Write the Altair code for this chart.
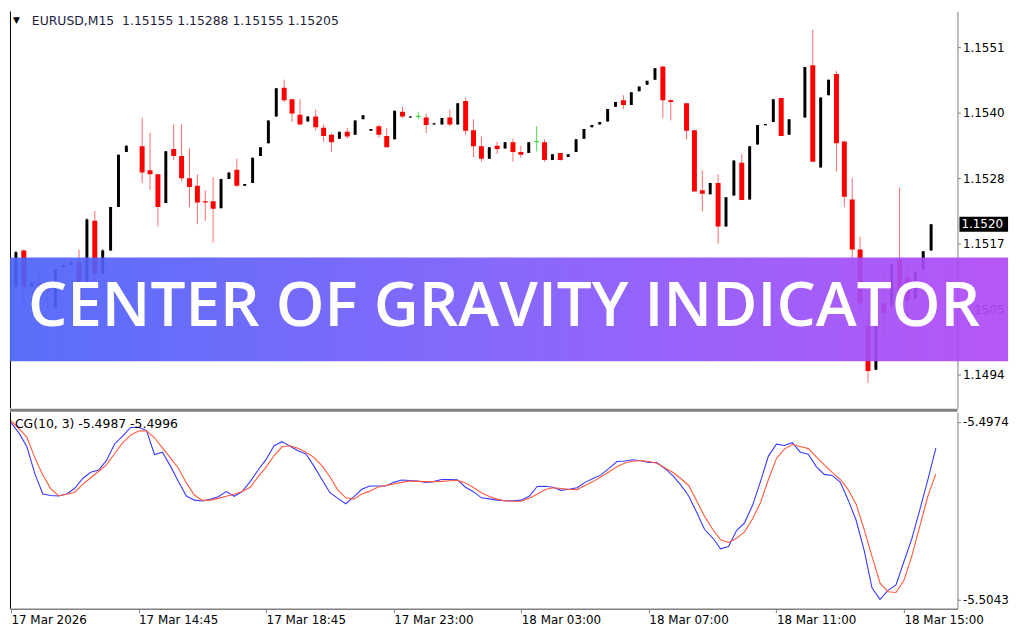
import json
import altair as alt
import pandas as pd

# ---------------- data ----------------
opens = [1.15094, 1.15156, 1.15094, 1.15099, 1.15094, 1.15057, 1.15128, 1.15131, 1.15136, 1.15094,
         1.15208, 1.15116, 1.15156, 1.15232, 1.15328, None, 1.15338, 1.15296, 1.15289, 1.15239,
         1.15333, 1.15321, 1.15282, 1.15269, 1.15242, 1.15242, 1.15230, 1.15281, 1.15297, 1.15269,
         1.15274, 1.15321, 1.15343, 1.15390, 1.15440, 1.15420, 1.15393, 1.15381, 1.15390, 1.15370,
         1.15358, 1.15351, 1.15363, 1.15358, 1.15385, 1.15365, 1.15373, 1.15356, 1.15350, 1.15398,
         1.15388, 1.15390, 1.15388, 1.15376, 1.15376, 1.15388, 1.15376, 1.15417, 1.15366, 1.15338,
         1.15316, 1.15339, 1.15334, 1.15345, 1.15328, 1.15326, 1.15346, 1.15345, 1.15314, 1.15326,
         1.15319, 1.15328, 1.15351, 1.15371, 1.15376, 1.15381, 1.15407, 1.15418, 1.15410, 1.15434,
         1.15445, 1.15454, 1.15477, 1.15418, None, 1.15413, 1.15366, 1.15261, 1.15254, 1.15274,
         1.15198, 1.15252, 1.15309, 1.15245, 1.15341, 1.15375, 1.15380, 1.15422, 1.15358, None,
         1.15388, 1.15479, 1.15301, 1.15427, 1.15464, 1.15346, 1.15245, 1.15158, 1.15024, 1.14948,
         1.15064, 1.15061, 1.15140, 1.15108, 1.15072, 1.15123, 1.15156]
highs = [1.15155, 1.15158, 1.15101, 1.15114, 1.15099, 1.15123, 1.15131, 1.15135, 1.15158, 1.15212,
         1.15225, 1.15158, 1.15232, 1.15323, 1.15339, None, 1.15388, 1.15361, 1.15289, 1.15329,
         1.15376, 1.15376, 1.15334, 1.15289, 1.15261, 1.15284, 1.15281, 1.15292, 1.15316, 1.15272,
         1.15318, 1.15336, 1.15383, 1.15439, 1.15454, 1.15420, 1.15420, 1.15390, 1.15402, 1.15376,
         1.15360, 1.15363, 1.15370, 1.15383, 1.15392, 1.15368, 1.15375, 1.15370, 1.15400, 1.15407,
         1.15390, 1.15398, 1.15395, 1.15378, 1.15387, 1.15402, 1.15413, 1.15423, 1.15385, 1.15355,
         1.15336, 1.15346, 1.15345, 1.15351, 1.15339, 1.15345, 1.15373, 1.15350, 1.15324, 1.15326,
         1.15324, 1.15350, 1.15368, 1.15375, 1.15380, 1.15403, 1.15415, 1.15427, 1.15432, 1.15442,
         1.15452, 1.15474, 1.15477, 1.15420, None, 1.15413, 1.15366, 1.15296, 1.15274, 1.15289,
         1.15249, 1.15313, 1.15324, 1.15338, 1.15375, 1.15376, 1.15420, 1.15422, 1.15385, None,
         1.15476, 1.15541, 1.15423, 1.15454, 1.15469, 1.15346, 1.15282, 1.15180, 1.15052, 1.15061,
         1.15119, 1.15133, 1.15266, 1.15133, 1.15119, 1.15155, 1.15202]
lows = [1.15091, 1.15066, 1.15093, 1.15086, 1.15056, 1.15057, 1.15128, 1.15131, 1.15066, 1.15091,
        1.15098, 1.15116, 1.15156, 1.15232, 1.15328, None, 1.15274, 1.15262, 1.15198, 1.15239,
        1.15314, 1.15276, 1.15232, 1.15202, 1.15208, 1.15170, 1.15230, 1.15281, 1.15267, 1.15269,
        1.15274, 1.15321, 1.15343, 1.15390, 1.15415, 1.15380, 1.15376, 1.15381, 1.15365, 1.15346,
        1.15328, 1.15351, 1.15351, 1.15358, 1.15385, 1.15365, 1.15353, 1.15336, 1.15350, 1.15387,
        1.15388, 1.15385, 1.15361, 1.15376, 1.15376, 1.15373, 1.15376, 1.15358, 1.15319, 1.15311,
        1.15316, 1.15324, 1.15334, 1.15311, 1.15318, 1.15326, 1.15329, 1.15311, 1.15314, 1.15313,
        1.15319, 1.15328, 1.15351, 1.15371, 1.15376, 1.15381, 1.15407, 1.15403, 1.15410, 1.15434,
        1.15445, 1.15454, 1.15387, 1.15383, None, 1.15350, 1.15259, 1.15224, 1.15254, 1.15168,
        1.15198, 1.15252, 1.15244, 1.15245, 1.15341, 1.15375, 1.15380, 1.15356, 1.15358, None,
        1.15388, 1.15311, 1.15301, 1.15427, 1.15294, 1.15232, 1.15128, 1.15049, 1.14925, 1.14948,
        1.15005, 1.15057, 1.15056, 1.15032, 1.15072, 1.15123, 1.15156]
closes = [1.15153, 1.15094, 1.15099, 1.15094, 1.15086, 1.15123, 1.15131, 1.15135, 1.15067, 1.15210,
          1.15116, 1.15156, 1.15232, 1.15323, 1.15339, None, 1.15292, 1.15289, 1.15232, 1.15329,
          1.15321, 1.15282, 1.15267, 1.15240, 1.15240, 1.15229, 1.15281, 1.15292, 1.15269, 1.15272,
          1.15318, 1.15336, 1.15383, 1.15439, 1.15418, 1.15395, 1.15376, 1.15390, 1.15371, 1.15356,
          1.15345, 1.15363, 1.15355, 1.15383, 1.15392, 1.15368, 1.15358, 1.15336, 1.15400, 1.15390,
          1.15390, 1.15390, 1.15375, 1.15378, 1.15387, 1.15376, 1.15413, 1.15365, 1.15338, 1.15316,
          1.15336, 1.15333, 1.15345, 1.15328, 1.15323, 1.15345, 1.15346, 1.15314, 1.15324, 1.15314,
          1.15324, 1.15350, 1.15368, 1.15375, 1.15380, 1.15403, 1.15415, 1.15410, 1.15432, 1.15442,
          1.15452, 1.15474, 1.15418, 1.15415, None, 1.15365, 1.15259, 1.15255, 1.15274, 1.15198,
          1.15249, 1.15313, 1.15244, 1.15338, 1.15375, 1.15376, 1.15420, 1.15356, 1.15385, None,
          1.15476, 1.15311, 1.15423, 1.15454, 1.15343, 1.15250, 1.15158, 1.15064, 1.14946, 1.15061,
          1.15047, 1.15133, 1.15069, 1.15069, 1.15119, 1.15155, 1.15202]

cg_main = [-5.49743, -5.49783, -5.49837, -5.49942, -5.50020, -5.50026, -5.50028, -5.50020, -5.49998, -5.49960,
           -5.49936, -5.49927, -5.49889, -5.49826, -5.49796, -5.49762, -5.49761, -5.49774, -5.49867, -5.49858,
           -5.49912, -5.49972, -5.50028, -5.50044, -5.50047, -5.50041, -5.50031, -5.50011, -5.50029, -5.50011,
           -5.49972, -5.49927, -5.49886, -5.49833, -5.49817, -5.49835, -5.49852, -5.49865, -5.49912, -5.49964,
           -5.50015, -5.50037, -5.50058, -5.50031, -5.50002, -5.49989, -5.49989, -5.49989, -5.49975, -5.49966,
           -5.49968, -5.49970, -5.49975, -5.49972, -5.49964, -5.49964, -5.49965, -5.49994, -5.50011, -5.50035,
           -5.50039, -5.50044, -5.50046, -5.50046, -5.50044, -5.50029, -5.49991, -5.49990, -5.49994, -5.50006,
           -5.50002, -5.49996, -5.49975, -5.49960, -5.49946, -5.49921, -5.49894, -5.49892, -5.49887, -5.49891,
           -5.49898, -5.49898, -5.49921, -5.49949, -5.49985, -5.50028, -5.50091, -5.50158, -5.50190, -5.50233,
           -5.50224, -5.50162, -5.50132, -5.50065, -5.49972, -5.49873, -5.49827, -5.49832, -5.49821, -5.49858,
           -5.49866, -5.49914, -5.49944, -5.49948, -5.49974, -5.50043, -5.50122, -5.50238, -5.50385, -5.50429,
           -5.50394, -5.50373, -5.50282, -5.50192, -5.50080, -5.49964, -5.49842]
cg_signal = [-5.49736, -5.49766, -5.49800, -5.49880, -5.49946, -5.50000, -5.50027, -5.50021, -5.50013, -5.49983,
             -5.49957, -5.49932, -5.49906, -5.49863, -5.49822, -5.49792, -5.49776, -5.49775, -5.49802, -5.49841,
             -5.49880, -5.49920, -5.49977, -5.50024, -5.50045, -5.50044, -5.50037, -5.50029, -5.50021, -5.50010,
             -5.49994, -5.49953, -5.49916, -5.49871, -5.49837, -5.49833, -5.49843, -5.49858, -5.49878, -5.49910,
             -5.49953, -5.50005, -5.50035, -5.50040, -5.50020, -5.50009, -5.49994, -5.49987, -5.49981, -5.49975,
             -5.49970, -5.49971, -5.49972, -5.49972, -5.49971, -5.49969, -5.49967, -5.49977, -5.49995, -5.50015,
             -5.50030, -5.50040, -5.50047, -5.50048, -5.50048, -5.50037, -5.50021, -5.50003, -5.49996, -5.49999,
             -5.50002, -5.50003, -5.49987, -5.49972, -5.49953, -5.49935, -5.49914, -5.49900, -5.49893, -5.49890,
             -5.49894, -5.49901, -5.49918, -5.49936, -5.49960, -5.49987, -5.50046, -5.50107, -5.50157, -5.50198,
             -5.50208, -5.50192, -5.50167, -5.50117, -5.50054, -5.49964, -5.49883, -5.49846, -5.49828, -5.49836,
             -5.49844, -5.49876, -5.49907, -5.49936, -5.49963, -5.50003, -5.50060, -5.50157, -5.50263, -5.50366,
             -5.50399, -5.50402, -5.50355, -5.50259, -5.50144, -5.50028, -5.49942]

time_labels = ["17 Mar 2026", "17 Mar 14:45", "17 Mar 18:45", "17 Mar 23:00",
               "18 Mar 03:00", "18 Mar 07:00", "18 Mar 11:00", "18 Mar 15:00"]
time_label_bars = [0, 16, 32, 48, 64, 80, 96, 112]
price_ticks = [1.1494, 1.15054, 1.15168, 1.15282, 1.15396, 1.1551]
cg_ticks = [-5.4974, -5.5043]
header_text = "EURUSD,M15\u00a0\u00a01.15155 1.15288 1.15155 1.15205"
cg_label_text = "CG(10, 3) -5.4987 -5.4996"
banner_text = "CENTER OF GRAVITY INDICATOR"
last_price_text = "1.1520"

# ---------------- tables ----------------
rows = []
for i, (o, h, l, c) in enumerate(zip(opens, highs, lows, closes)):
    if o is None:
        continue
    kind = "bull" if c > o else ("bear" if c < o else "doji")
    lo, hi = min(o, c), max(o, c)
    if hi - lo < 0.00002:
        mid = (hi + lo) / 2
        lo, hi = mid - 0.00001, mid + 0.00001
    rows.append(dict(i=i, o=o, h=h, l=l, c=c, kind=kind, blo=lo, bhi=hi))
candles = pd.DataFrame(rows)
cg = pd.DataFrame({"i": list(range(len(cg_main))), "main": cg_main, "signal": cg_signal})
last = pd.DataFrame({"price": [closes[-1]], "t": [last_price_text]})
one = pd.DataFrame({"d": [0]})

# ---------------- layout ----------------
W, H1, H2 = 955, 400, 198
FONT = "DejaVu Sans"
GRAY = "#808080"

x_scale = alt.Scale(domain=[-0.1224, 118.71], nice=False, zero=False)
price_scale = alt.Scale(domain=[1.14881, 1.15573], nice=False, zero=False)
cg_scale = alt.Scale(domain=[-5.50465, -5.49703], nice=False, zero=False)

price_axis = alt.Axis(orient="right", values=price_ticks, format=".4f", title=None, grid=False,
                      domainColor=GRAY, tickColor=GRAY, tickSize=3, labelFont=FONT,
                      labelFontSize=12, labelColor="#000000", labelPadding=2)
cg_axis = alt.Axis(orient="right", values=cg_ticks, format=".4f", title=None, grid=False,
                   labelExpr="replace(datum.label, '\u2212', '-')",
                   domainColor=GRAY, tickColor=GRAY, tickSize=3, labelFont=FONT,
                   labelFontSize=12, labelColor="#000000", labelPadding=2)
time_axis = alt.Axis(values=time_label_bars, title=None, grid=False,
                     labelExpr=json.dumps(time_labels) + "[round(datum.value / 16)]",
                     labelAlign="left", labelFlush=False, labelOverlap=False, labelBound=False,
                     labelAngle=0, labelBaseline="top",
                     domainColor=GRAY, domainWidth=1.5, tickColor=GRAY, tickSize=4,
                     labelFont=FONT, labelFontSize=12, labelColor="#000000", labelPadding=2)

X = alt.X("i:Q", scale=x_scale, axis=None)


def PY(f):
    return alt.Y(f, type="quantitative", scale=price_scale, axis=price_axis)


wicks = alt.Chart(candles).mark_rule(strokeWidth=1, clip=True).encode(
    x=X, y=PY("l"), y2="h",
    color=alt.Color("kind:N", scale=alt.Scale(domain=["bull", "bear", "doji"],
                                              range=["#000000", "#ff6b6b", "#4fe04f"]), legend=None))
bull = alt.Chart(candles).transform_filter("datum.kind == 'bull'").mark_bar(
    width=3, color="#000000", clip=True).encode(x=X, y=PY("blo"), y2="bhi")
bear = alt.Chart(candles).transform_filter("datum.kind == 'bear'").mark_bar(
    width=5, color="#ff0000", clip=True).encode(x=X, y=PY("blo"), y2="bhi")
doji = alt.Chart(candles).transform_filter("datum.kind == 'doji'").mark_bar(
    width=5, color="#3ddc3d", clip=True).encode(x=X, y=PY("blo"), y2="bhi")

price_box = alt.Chart(last).mark_rule(color="#000000", strokeWidth=15).encode(
    x=alt.value(W + 2), x2=alt.value(W + 51), y=PY("price"))
price_txt = alt.Chart(last).mark_text(align="left", baseline="middle", font=FONT, fontSize=12,
                                      color="#ffffff").encode(
    x=alt.value(W + 4), y=PY("price"), text="t:N")

header_tri = alt.Chart(one).mark_text(text="\u25bc", align="left", baseline="middle", font=FONT,
                                      fontSize=9, color="#000000").encode(
    x=alt.value(3), y=alt.value(9))
header = alt.Chart(one).mark_text(text=header_text, align="left", baseline="middle", font=FONT,
                                  fontSize=12.5, color="#1e1e3c").encode(
    x=alt.value(22), y=alt.value(10))

left_top = alt.Chart(one).mark_rule(color="#000000", strokeWidth=1).encode(
    x=alt.value(0.5), y=alt.value(0), y2=alt.value(H1))
separator = alt.Chart(one).mark_rule(color=GRAY, strokeWidth=3).encode(
    x=alt.value(0), x2=alt.value(W), y=alt.value(H1 + 2))

gradient = alt.LinearGradient(
    gradient="linear", x1=0, x2=1, y1=0, y2=0,
    stops=[alt.GradientStop(color="#4a62fa", offset=0),
           alt.GradientStop(color="#7e5bfb", offset=0.5),
           alt.GradientStop(color="#b048f6", offset=1)])
banner = alt.Chart(one).mark_rect(color=gradient, opacity=0.92).encode(
    x=alt.value(0), x2=alt.value(1006), y=alt.value(248), y2=alt.value(352.5))
banner_txt = alt.Chart(one).mark_text(text=banner_text, align="center", baseline="middle",
                                      font="Open Sans", fontWeight=600, fontSize=62.5,
                                      color="#ffffff").encode(
    x=alt.value(498), y=alt.value(298))

top = alt.layer(wicks, bull, bear, doji, price_box, price_txt, header_tri, header,
                left_top, separator, banner, banner_txt).properties(width=W, height=H1)

XB = alt.X("i:Q", scale=x_scale, axis=time_axis)
main_line = alt.Chart(cg).mark_line(color="#3a3aff", strokeWidth=1.1, clip=True).encode(
    x=XB, y=alt.Y("main:Q", scale=cg_scale, axis=cg_axis))
signal_line = alt.Chart(cg).mark_line(color="#ff5a3c", strokeWidth=1.1, clip=True).encode(
    x=XB, y=alt.Y("signal:Q", scale=cg_scale, axis=cg_axis))
left_bot = alt.Chart(one).mark_rule(color="#000000", strokeWidth=1).encode(
    x=alt.value(0.5), y=alt.value(0), y2=alt.value(H2))
cg_label = alt.Chart(one).mark_text(text=cg_label_text, align="left", baseline="middle", font=FONT,
                                    fontSize=12.5, color="#000000").encode(
    x=alt.value(5), y=alt.value(11.5))

bottom = alt.layer(main_line, signal_line, left_bot, cg_label).properties(width=W, height=H2)

chart = alt.vconcat(top, bottom, spacing=4, bounds="flush",
                    padding={"left": 0, "top": 0, "right": 0, "bottom": 0},
                    background="#ffffff").configure_view(stroke=None)

chart.save("out.html", embed_options={"renderer": "svg", "actions": False})
